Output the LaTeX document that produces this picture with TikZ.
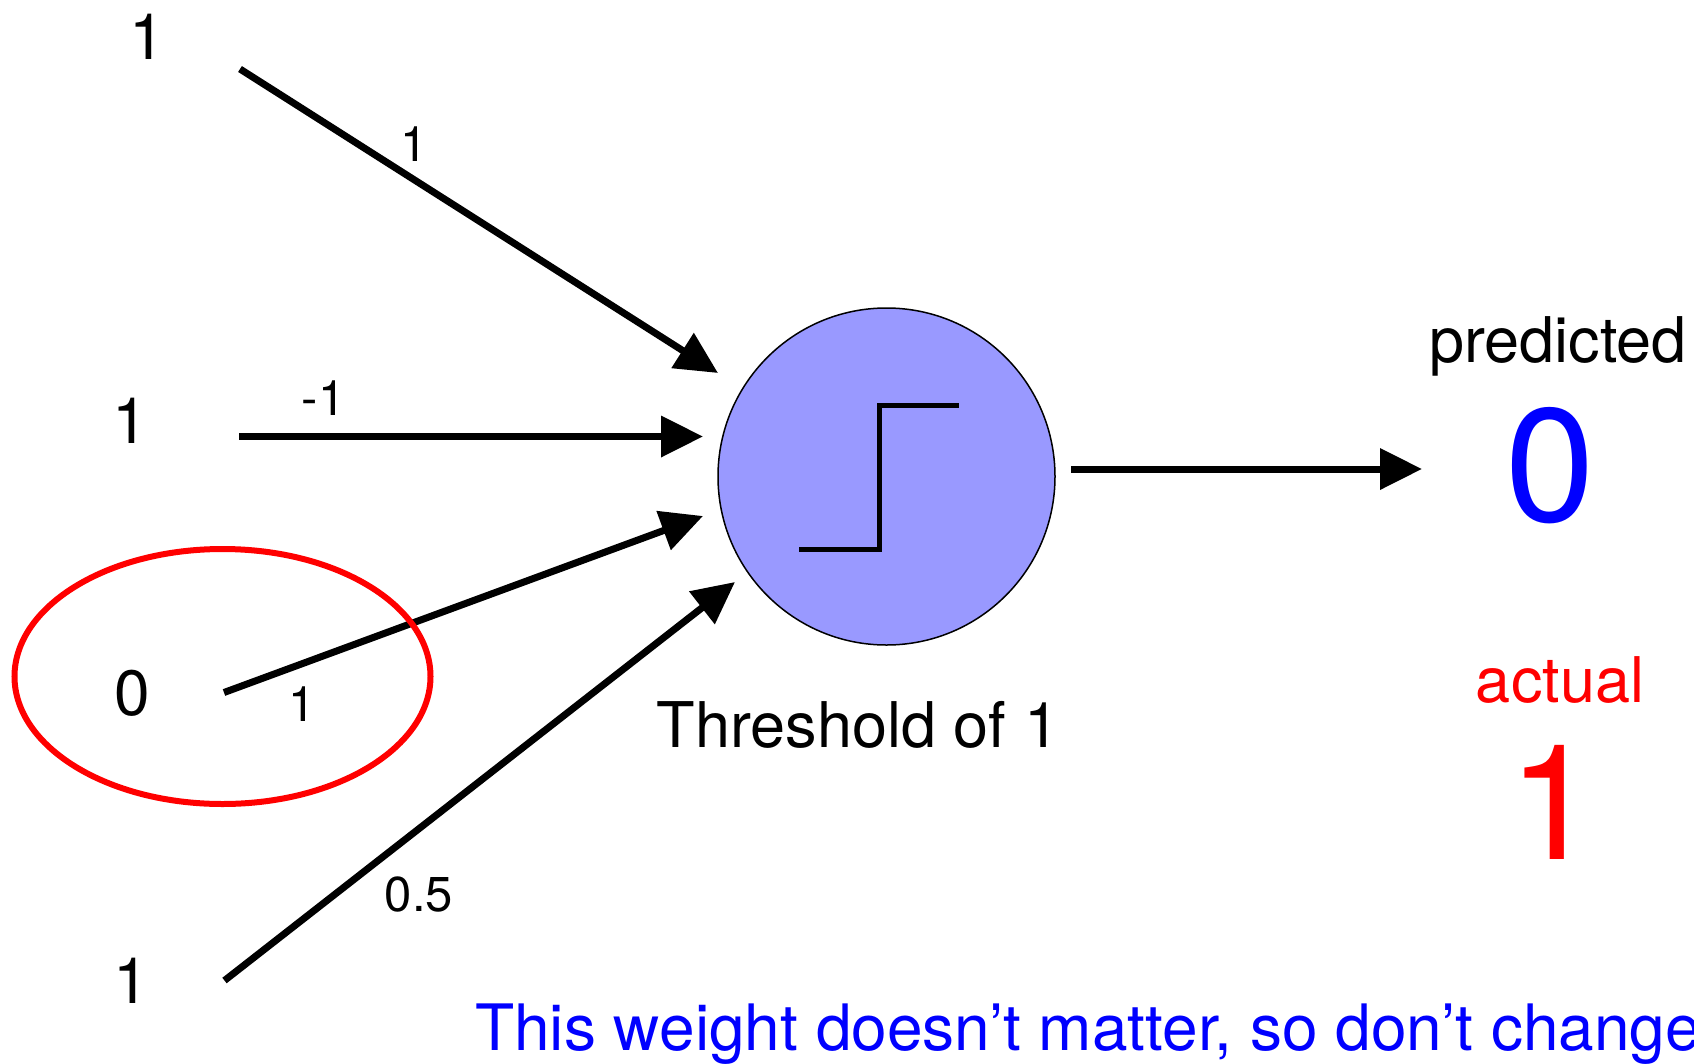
\documentclass[tikz,border=0pt]{standalone}
\usepackage{fontspec}
\setmainfont{TeX Gyre Heros}
\usetikzlibrary{arrows.meta}
\definecolor{neuronfill}{HTML}{9999FF}
\definecolor{pureblue}{HTML}{0000FF}
\definecolor{purered}{HTML}{FF0000}
\begin{document}
\begin{tikzpicture}[x=1pt,y=-1pt,
  conn/.style={line width=7pt,-{Triangle[length=42pt,width=40pt]}},
  inp/.style={font=\fontsize{64}{64}\selectfont,anchor=base,inner sep=0pt},
  wlab/.style={font=\fontsize{49}{49}\selectfont,anchor=base,inner sep=0pt},
  txt/.style={font=\fontsize{63}{63}\selectfont,anchor=base,inner sep=0pt},
  big/.style={font=\fontsize{161}{161}\selectfont,anchor=base,inner sep=0pt}]
\useasboundingbox (0,0) rectangle (1694,1063);

% input values
\node[inp] (in1) at (147,59) {1};
\node[inp] (in2) at (130,443) {1};
\node[inp] (in3) at (132,715) {0};
\node[inp] (in4) at (131,1003) {1};

% connector end points
\coordinate (s1) at (240,69);
\coordinate (t1) at (718,373);
\coordinate (s2) at (239,436.5);
\coordinate (t2) at (703,436.5);
\coordinate (s3) at (224,692.5);
\coordinate (t3) at (703,516);
\coordinate (s4) at (224.5,980.5);
\coordinate (t4) at (735,582);

\draw[conn] (s1) -- (t1);
\draw[conn] (s2) -- (t2);
\draw[conn] (s3) -- (t3);
\draw[conn] (s4) -- (t4);

% weights
\node[wlab] (w1) at (414,161) {1};
\node[wlab] (w2) at (323.5,415) {-1};
\node[wlab] (w3) at (302,721) {1};
\node[wlab] (w4) at (419,911) {0.5};

% neuron
\node[circle,draw=black,line width=1.5pt,fill=neuronfill,minimum size=337pt,inner sep=0pt] (neuron) at (886.5,476.5) {};
\draw[line width=5pt] (neuron.center) ++(-87.5,72.5) -- ++(80,0) -- ++(0,-144) -- ++(80,0);
\node[txt] (thr) at (858,747) {Threshold of 1};

% output
\coordinate (o1) at (1071,469);
\coordinate (o2) at (1422,469);
\draw[conn] (o1) -- (o2);

\node[txt] (pred) at (1558,362) {predicted};
\node[big,text=pureblue] (predv) at (1550,521) {0};
\node[txt,text=purered] (act) at (1560,702) {actual};
\node[big,text=purered] (actv) at (1553,859) {1};

% highlight
\draw[purered,line width=6pt] (222.5,676.5) ellipse [x radius=208pt,y radius=127.5pt];

% note
\node[txt,text=pureblue,anchor=base west,font=\fontsize{64}{64}\selectfont] (note) at (475,1050) {This weight doesn’t matter, so don’t change};
\end{tikzpicture}
\end{document}
